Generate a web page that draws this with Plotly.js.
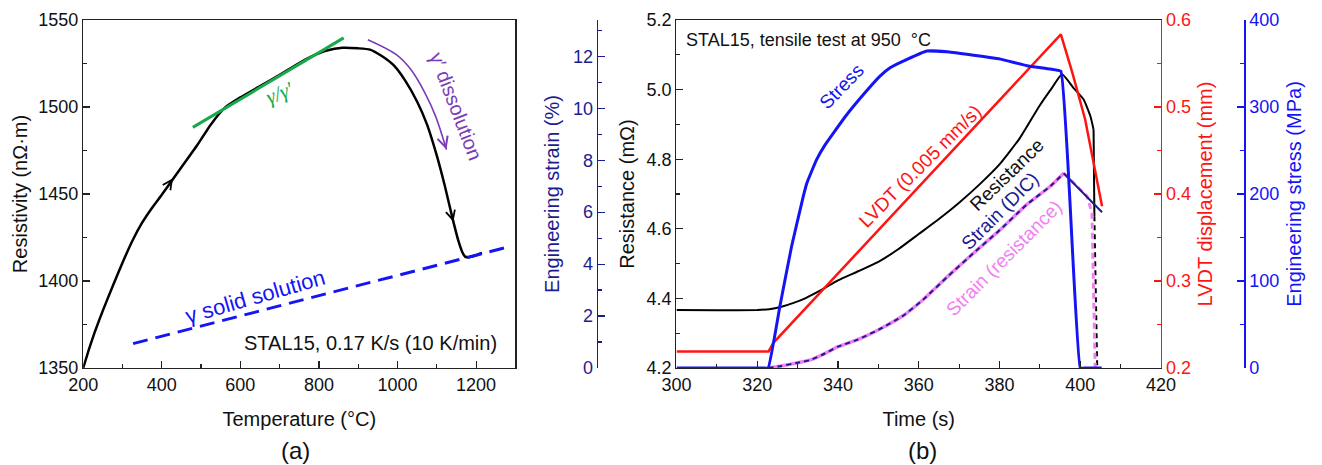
<!DOCTYPE html>
<html><head><meta charset="utf-8">
<script src="https://cdn.plot.ly/plotly-3.0.1.min.js"></script>
<style>html,body{margin:0;padding:0;background:#fff}#chart{width:1322px;height:465px}</style>
</head><body><div id="chart"></div>
<script>
// ---------- Panel (a): resistivity vs temperature ----------
const tempC = [200, 215, 230, 250, 275, 300, 325, 350, 375, 400, 430, 460, 490, 525, 560, 600, 650, 700, 740, 780, 820, 860, 900, 930, 960, 990, 1020, 1050, 1075, 1100, 1120, 1140, 1155, 1165, 1172, 1180, 1200, 1215];
const resistivity = [1350, 1361, 1371, 1383, 1397, 1410.5, 1423, 1433.5, 1442, 1449.6, 1459, 1468.5, 1478, 1490, 1499.5, 1505.5, 1512, 1518.5, 1524, 1529, 1532.5, 1534, 1533.7, 1533, 1529.3, 1524, 1515, 1503, 1490, 1472, 1455, 1436, 1423, 1416.5, 1414, 1413.6, 1414.8, 1416.1];
const gammaGpT = [479, 863];
const gammaGpRho = [1488.3, 1539.7];
const solidSolT = [327, 1288];
const solidSolRho = [1364, 1420];
const dissolArcT = [924.5, 997, 1034, 1070, 1097, 1124.5];
const dissolArcRho = [1538.7, 1530.1, 1521.5, 1508, 1494.6, 1475.5];

// ---------- Panel (b): tensile test at 950 °C ----------
const resTime = [300, 310, 320, 323, 326, 329, 332, 336, 340, 345, 350, 355, 360, 365, 370, 375, 380, 385, 390, 393, 395.5, 398.3, 400.8, 402.5, 403.3];
const resistance = [4.367, 4.366, 4.367, 4.369, 4.376, 4.387, 4.401, 4.425, 4.452, 4.478, 4.505, 4.542, 4.585, 4.628, 4.675, 4.727, 4.785, 4.86, 4.955, 5.005, 5.044, 5.005, 4.972, 4.924, 4.885];
const resEndTime = [403.3, 403.5];
const resEnd = [4.885, 4.636];
const resDropTime = [403.5, 404.2];
const resDrop = [4.636, 4.2];

const lvdtTime = [300, 322.8, 324, 395.2, 398, 400, 401.2, 405.4];
const lvdt = [0.219, 0.219, 0.229, 0.5835, 0.54, 0.505, 0.486, 0.386];

const stressTime = [300, 310, 318, 321.5, 322.7, 325.6, 328.5, 331.4, 332.3, 334.7, 336.8, 338.9, 342.2, 346.3, 350.4, 352.9, 357.1, 362, 367, 371.9, 380.2, 386.8, 392.6, 395.2, 400, 401.5, 404, 405.3];
const stress = [0, 0, 0, 0, 0, 70.6, 139.7, 197.3, 212.7, 239.6, 256.5, 270.3, 291.4, 314.4, 335.5, 345.1, 354.7, 364.3, 363.6, 360.6, 355, 347.5, 343.6, 341, 0, 0, 0, 0];

const dicTime = [322.8, 326, 330, 333, 336, 340, 345, 351, 356, 361, 367, 373.6, 380, 386.8, 392.6, 395.9];
const dicStrain = [0, 0.08, 0.2, 0.3, 0.5, 0.82, 1.1, 1.55, 2.0, 2.62, 3.5, 4.43, 5.3, 6.3, 7.0, 7.5];
const dicTailTime = [395.9, 405.4];
const dicTail = [7.5, 6.0];

const resStrainTime = dicTime;
const resStrain = dicStrain;
const resStrainTailTime = [395.9, 398.3, 401.7, 402.9, 403.7, 404.5];
const resStrainTail = [7.5, 7.13, 6.61, 5.97, 0, 0];

// ---------- styling ----------
const FONT = 'Liberation Sans, Arial, sans-serif';
const NAVY = '#1c1c8f';
const BLUE = '#1414f5';
const RED = '#ff1414';
const PINK = '#f27ff0';
const GREEN = '#19a94b';
const PURPLE = '#7a3db8';
const AX = '#222';

const traces = [
  {x: tempC, y: resistivity, xaxis: 'x', yaxis: 'y', mode: 'lines', line: {color: '#000', width: 2.5, shape: 'spline', smoothing: 0.5}, name: 'Resistivity'},
  {x: gammaGpT, y: gammaGpRho, xaxis: 'x', yaxis: 'y', mode: 'lines', line: {color: GREEN, width: 3}, name: 'γ/γ′'},
  {x: solidSolT, y: solidSolRho, xaxis: 'x', yaxis: 'y', mode: 'lines', line: {color: BLUE, width: 3, dash: '15px,8px'}, name: 'γ solid solution'},
  {x: dissolArcT, y: dissolArcRho, xaxis: 'x', yaxis: 'y', mode: 'lines', line: {color: PURPLE, width: 1.6, shape: 'spline'}, name: 'γ′ dissolution'},

  {x: resTime, y: resistance, xaxis: 'x2', yaxis: 'y2', mode: 'lines', line: {color: '#000', width: 2, shape: 'spline', smoothing: 0.5}, name: 'Resistance'},
  {x: resEndTime, y: resEnd, xaxis: 'x2', yaxis: 'y2', mode: 'lines', line: {color: '#000', width: 2}, name: 'Resistance (end)'},
  {x: resDropTime, y: resDrop, xaxis: 'x2', yaxis: 'y2', mode: 'lines', line: {color: '#000', width: 2, dash: '5px,4px'}, name: 'Resistance (drop)'},
  {x: resStrainTime, y: resStrain, xaxis: 'x2', yaxis: 'y3', mode: 'lines', line: {color: PINK, width: 3.5, shape: 'spline', smoothing: 0.5}, name: 'Strain (resistance)'},
  {x: resStrainTailTime, y: resStrainTail, xaxis: 'x2', yaxis: 'y3', mode: 'lines', line: {color: PINK, width: 3, dash: '6px,4px'}, name: 'Strain (resistance) tail'},
  {x: dicTime, y: dicStrain, xaxis: 'x2', yaxis: 'y3', mode: 'lines', line: {color: NAVY, width: 2, dash: '5px,4px', shape: 'spline', smoothing: 0.5}, name: 'Strain (DIC)'},
  {x: dicTailTime, y: dicTail, xaxis: 'x2', yaxis: 'y3', mode: 'lines', line: {color: NAVY, width: 2}, name: 'Strain (DIC) tail'},
  {x: lvdtTime, y: lvdt, xaxis: 'x2', yaxis: 'y4', mode: 'lines', line: {color: RED, width: 2.5}, name: 'LVDT'},
  {x: stressTime, y: stress, xaxis: 'x2', yaxis: 'y5', mode: 'lines', line: {color: BLUE, width: 3, shape: 'spline', smoothing: 0.3}, name: 'Stress'}
];

const tickFont = (c) => ({family: FONT, size: 18, color: c});
const titleFont = (c) => ({family: FONT, size: 20, color: c});

function baseAxis(extra) {
  return Object.assign({
    showgrid: false, zeroline: false, showline: true, linecolor: AX, linewidth: 1.3,
    ticks: 'inside', ticklen: 7, tickwidth: 1.2, tickcolor: AX,
    tickfont: tickFont('#111'), fixedrange: true
  }, extra);
}

const layout = {
  width: 1322, height: 465,
  margin: {l: 0, r: 0, t: 0, b: 0},
  paper_bgcolor: '#fff', plot_bgcolor: 'rgba(0,0,0,0)',
  showlegend: false,
  font: {family: FONT, color: '#111'},
  xaxis: baseAxis({domain: [0.06293, 0.38986], range: [200, 1300], anchor: 'y', dtick: 200, tick0: 200, mirror: true,
    minor: {dtick: 100, ticklen: 4, ticks: 'inside', tickcolor: AX},
    title: {text: 'Temperature (°C)', font: titleFont('#111'), standoff: 18}}),
  yaxis: baseAxis({domain: [0.2086, 0.957], range: [1350, 1550], anchor: 'x', dtick: 50, tick0: 1350, mirror: true,
    minor: {dtick: 25, ticklen: 4, ticks: 'inside', tickcolor: AX},
    title: {text: 'Resistivity (nΩ·m)', font: titleFont('#111'), standoff: 5}}),

  xaxis2: baseAxis({domain: [0.51172, 0.87822], range: [300, 420], anchor: 'y2', dtick: 20, tick0: 300, mirror: true,
    minor: {dtick: 10, ticklen: 4, ticks: 'inside', tickcolor: AX},
    title: {text: 'Time (s)', font: titleFont('#111'), standoff: 18}}),
  yaxis2: baseAxis({domain: [0.2086, 0.957], range: [4.2, 5.2], anchor: 'x2', dtick: 0.2, tick0: 4.2, tickformat: '.1f',
    minor: {dtick: 0.1, ticklen: 4, ticks: 'inside', tickcolor: AX},
    title: {text: 'Resistance (mΩ)', font: titleFont('#111'), standoff: 6}}),
  yaxis3: baseAxis({domain: [0.2086, 0.957], range: [0, 13.4], overlaying: 'y2', anchor: 'free', position: 0.45136, side: 'left',
    dtick: 2, tick0: 0, linecolor: NAVY, tickcolor: NAVY, tickfont: tickFont(NAVY),
    minor: {dtick: 1, ticklen: 4, ticks: 'inside', tickcolor: NAVY},
    title: {text: 'Engineering strain (%)', font: titleFont(NAVY), standoff: 6}}),
  yaxis4: baseAxis({domain: [0.2086, 0.957], range: [0.2, 0.6], overlaying: 'y2', anchor: 'x2', side: 'right',
    dtick: 0.1, tick0: 0.2, tickformat: '.1f', linecolor: RED, tickcolor: RED, tickfont: tickFont(RED),
    minor: {dtick: 0.05, ticklen: 4, ticks: 'inside', tickcolor: RED},
    title: {text: 'LVDT displacement (mm)', font: titleFont(RED), standoff: 8}}),
  yaxis5: baseAxis({domain: [0.2086, 0.957], range: [0, 400], overlaying: 'y2', anchor: 'free', position: 0.94123, side: 'right',
    dtick: 100, tick0: 0, linecolor: BLUE, tickcolor: BLUE, tickfont: tickFont(BLUE),
    minor: {dtick: 50, ticklen: 4, ticks: 'inside', tickcolor: BLUE},
    title: {text: 'Engineering stress (MPa)', font: titleFont(BLUE), standoff: 8}}),

  annotations: [
    // panel (a)
    {xref: 'x', yref: 'y', x: 700, y: 1508, text: '<i>γ/γ′</i>', showarrow: false, textangle: -22,
      font: {family: 'Liberation Serif, Times New Roman, serif', size: 21, color: GREEN}},
    {xref: 'x', yref: 'y', x: 1150, y: 1500.2, text: 'γ′ dissolution', showarrow: false, textangle: 69,
      font: {family: FONT, size: 20, color: PURPLE}},
    {xref: 'x', yref: 'y', x: 638, y: 1391.2, text: 'γ solid solution', showarrow: false, textangle: -16,
      font: {family: FONT, size: 22, color: BLUE}},
    {xref: 'x', yref: 'y', x: 1258, y: 1364.2, xanchor: 'right', text: 'STAL15, 0.17 K/s (10 K/min)', showarrow: false,
      font: {family: FONT, size: 20, color: '#111'}},
    {xref: 'x', yref: 'y', x: 428.5, y: 1459, ax: -3.4, ay: 4.9, text: '', showarrow: true, arrowhead: 5, arrowsize: 1.3, arrowwidth: 1.4, arrowcolor: '#000'},
    {xref: 'x', yref: 'y', x: 1142.2, y: 1434, ax: -1.6, ay: -5.8, text: '', showarrow: true, arrowhead: 5, arrowsize: 1.3, arrowwidth: 1.4, arrowcolor: '#000'},
    {xref: 'x', yref: 'y', x: 1124.5, y: 1475.5, ax: -1.8, ay: -5.7, text: '', showarrow: true, arrowhead: 5, arrowsize: 1.6, arrowwidth: 1.3, arrowcolor: PURPLE},
    {xref: 'paper', yref: 'paper', x: 0.2237, y: 0, xanchor: 'center', yanchor: 'bottom', borderpad: 0, text: '(a)', showarrow: false, font: {family: FONT, size: 24, color: '#111'}},
    // panel (b)
    {xref: 'x2', yref: 'y2', x: 301.9, y: 5.142, xanchor: 'left', text: 'STAL15, tensile test at 950  °C', showarrow: false,
      font: {family: FONT, size: 18, color: '#111'}},
    {xref: 'x2', yref: 'y2', x: 340.9, y: 5.008, text: 'Stress', showarrow: false, textangle: -46, font: {family: FONT, size: 19, color: BLUE}},
    {xref: 'x2', yref: 'y2', x: 360.2, y: 4.78, text: 'LVDT (0.005 mm/s)', showarrow: false, textangle: -45, font: {family: FONT, size: 19, color: RED}},
    {xref: 'x2', yref: 'y2', x: 381.9, y: 4.755, text: 'Resistance', showarrow: false, textangle: -44, font: {family: FONT, size: 19, color: '#111'}},
    {xref: 'x2', yref: 'y2', x: 380.0, y: 4.65, text: 'Strain (DIC)', showarrow: false, textangle: -45, font: {family: FONT, size: 19, color: NAVY}},
    {xref: 'x2', yref: 'y2', x: 381.0, y: 4.515, text: 'Strain (resistance)', showarrow: false, textangle: -45, font: {family: FONT, size: 19, color: PINK}},
    {xref: 'paper', yref: 'paper', x: 0.6977, y: 0, xanchor: 'center', yanchor: 'bottom', borderpad: 0, text: '(b)', showarrow: false, font: {family: FONT, size: 24, color: '#111'}}
  ]
};

Plotly.newPlot('chart', traces, layout, {staticPlot: true, displayModeBar: false});
</script>
</body></html>
